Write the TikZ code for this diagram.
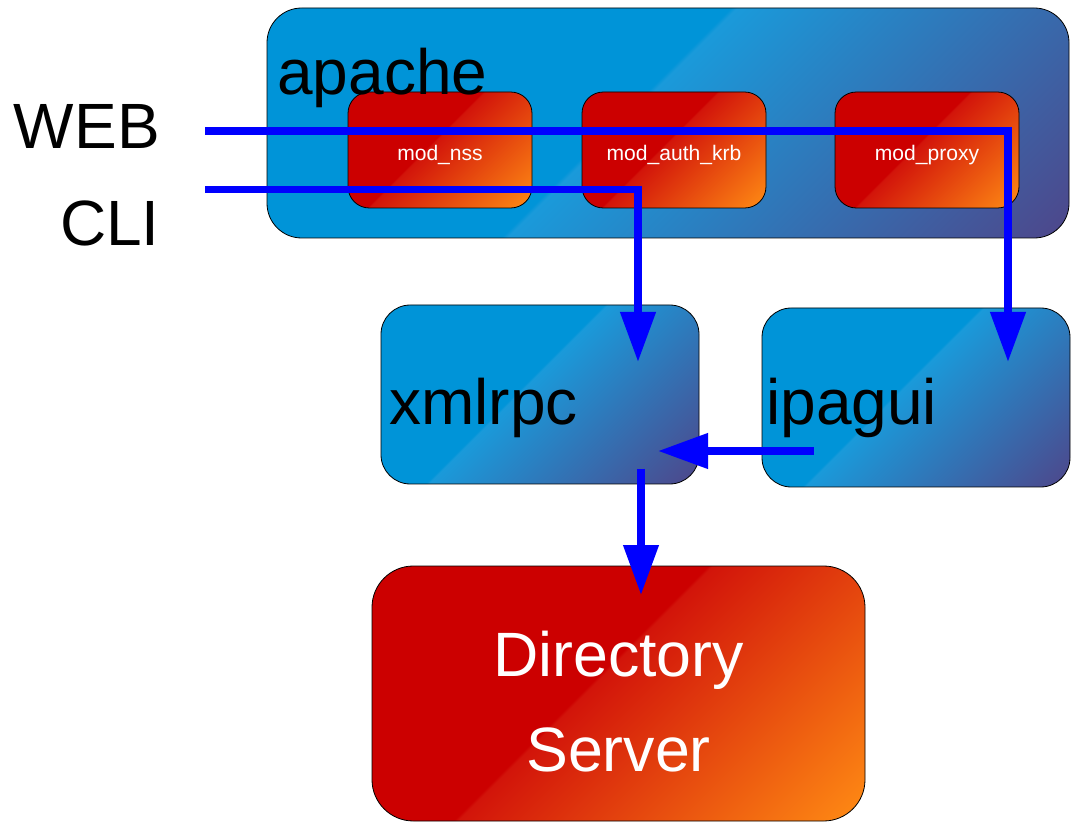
\documentclass[tikz,border=0pt]{standalone}
\usepackage{fontspec}
\setmainfont{Liberation Sans}
\usetikzlibrary{arrows.meta}
\definecolor{cblue}{RGB}{0,148,216}
\definecolor{cbluelt}{RGB}{26,154,218}
\definecolor{cpurple}{RGB}{78,70,138}
\definecolor{cred}{RGB}{204,0,0}
\definecolor{credlt}{RGB}{210,20,10}
\definecolor{corange}{RGB}{255,140,20}
\definecolor{arrowblue}{RGB}{0,0,255}
\pgfdeclarehorizontalshading{blueg}{100bp}{color(0bp)=(cblue); color(48.2bp)=(cblue); color(48.4bp)=(cbluelt); color(67.7bp)=(cpurple); color(100bp)=(cpurple)}
\pgfdeclarehorizontalshading{redg}{100bp}{color(0bp)=(cred); color(48.2bp)=(cred); color(48.4bp)=(credlt); color(67.7bp)=(corange); color(100bp)=(corange)}
\tikzset{
  boxline/.style={draw=black, line width=0.6pt, inner sep=0pt, outer sep=0pt, rectangle},
  bigtext/.style={inner sep=0pt, font=\fontsize{48}{56}\selectfont, text=black},
  whitetext/.style={inner sep=0pt, font=\fontsize{47}{71}\selectfont, text=white, align=center},
  modtext/.style={inner sep=0pt, font=\fontsize{15.8}{19}\selectfont, text=white},
  flow/.style={draw=arrowblue, line width=5.6pt, -{Triangle[length=37.5pt,width=25.5pt]}}
}
\newcommand\gradbox[7]{%
  \pgfmathsetmacro\gbcx{((#2)+(#4))/2}%
  \pgfmathsetmacro\gbcy{((#3)+(#5))/2}%
  \pgfmathsetmacro\gbhs{((#4)-(#2)+(#5)-(#3))/2}%
  \pgfmathsetmacro\gbw{((#4)-(#2))*0.75}%
  \pgfmathsetmacro\gbh{((#5)-(#3))*0.75}%
  \begin{scope}
    \clip[rounded corners=#6] (#2,#3) rectangle (#4,#5);
    \shade[shading=#7, shading angle=-45] (\gbcx-\gbhs,\gbcy-\gbhs) rectangle (\gbcx+\gbhs,\gbcy+\gbhs);
  \end{scope}
  \node[boxline, rounded corners=#6, minimum width=\gbw pt, minimum height=\gbh pt] (#1) at (\gbcx,\gbcy) {};%
}
\begin{document}
\begin{tikzpicture}[x=0.75pt, y=-0.75pt]
\useasboundingbox (0,0) rectangle (1075,823);
% boxes
\gradbox{apache}{267}{8}{1069}{238}{26pt}{blueg}
\gradbox{modnss}{348}{92}{532}{208}{16pt}{redg}
\gradbox{modauth}{582}{92}{766}{208}{16pt}{redg}
\gradbox{modproxy}{835}{92}{1019}{208}{16pt}{redg}
\gradbox{xmlrpc}{381}{305}{699}{484}{22pt}{blueg}
\gradbox{ipagui}{762}{308}{1070}{487}{22pt}{blueg}
\gradbox{ds}{372}{566}{865}{821}{31pt}{redg}
% texts
\node[bigtext, anchor=base west] (apachelbl) at (277,95) {apache};
\node[bigtext, anchor=base east] (weblbl) at (160,149) {WEB};
\node[bigtext, anchor=base east] (clilbl) at (160,246) {CLI};
\node[bigtext, anchor=base west] (xmlrpclbl) at (389,425) {xmlrpc};
\node[bigtext, anchor=base west] (ipaguilbl) at (766,425) {ipagui};
\node[modtext, anchor=base] (nsslbl) at (440,161) {mod\_nss};
\node[modtext, anchor=base] (authlbl) at (674,161) {mod\_auth\_krb};
\node[modtext, anchor=base] (proxylbl) at (927,161) {mod\_proxy};
\node[whitetext] (dslbl) at (618.5,701.5) {Directory\\Server};
% connectors
\coordinate (webin) at (205,131);
\coordinate (cliin) at (205,189.5);
\coordinate (webend) at (1008,362);
\coordinate (cliend) at (638,362);
\coordinate (guiout) at (814,451);
\coordinate (rpcin) at (658,451);
\coordinate (rpcout) at (641,469);
\coordinate (dsin) at (641,595);
\draw[flow] (webin) -| (webend);
\draw[flow] (cliin) -| (cliend);
\draw[flow] (guiout) -- (rpcin);
\draw[flow] (rpcout) -- (dsin);
\end{tikzpicture}
\end{document}
